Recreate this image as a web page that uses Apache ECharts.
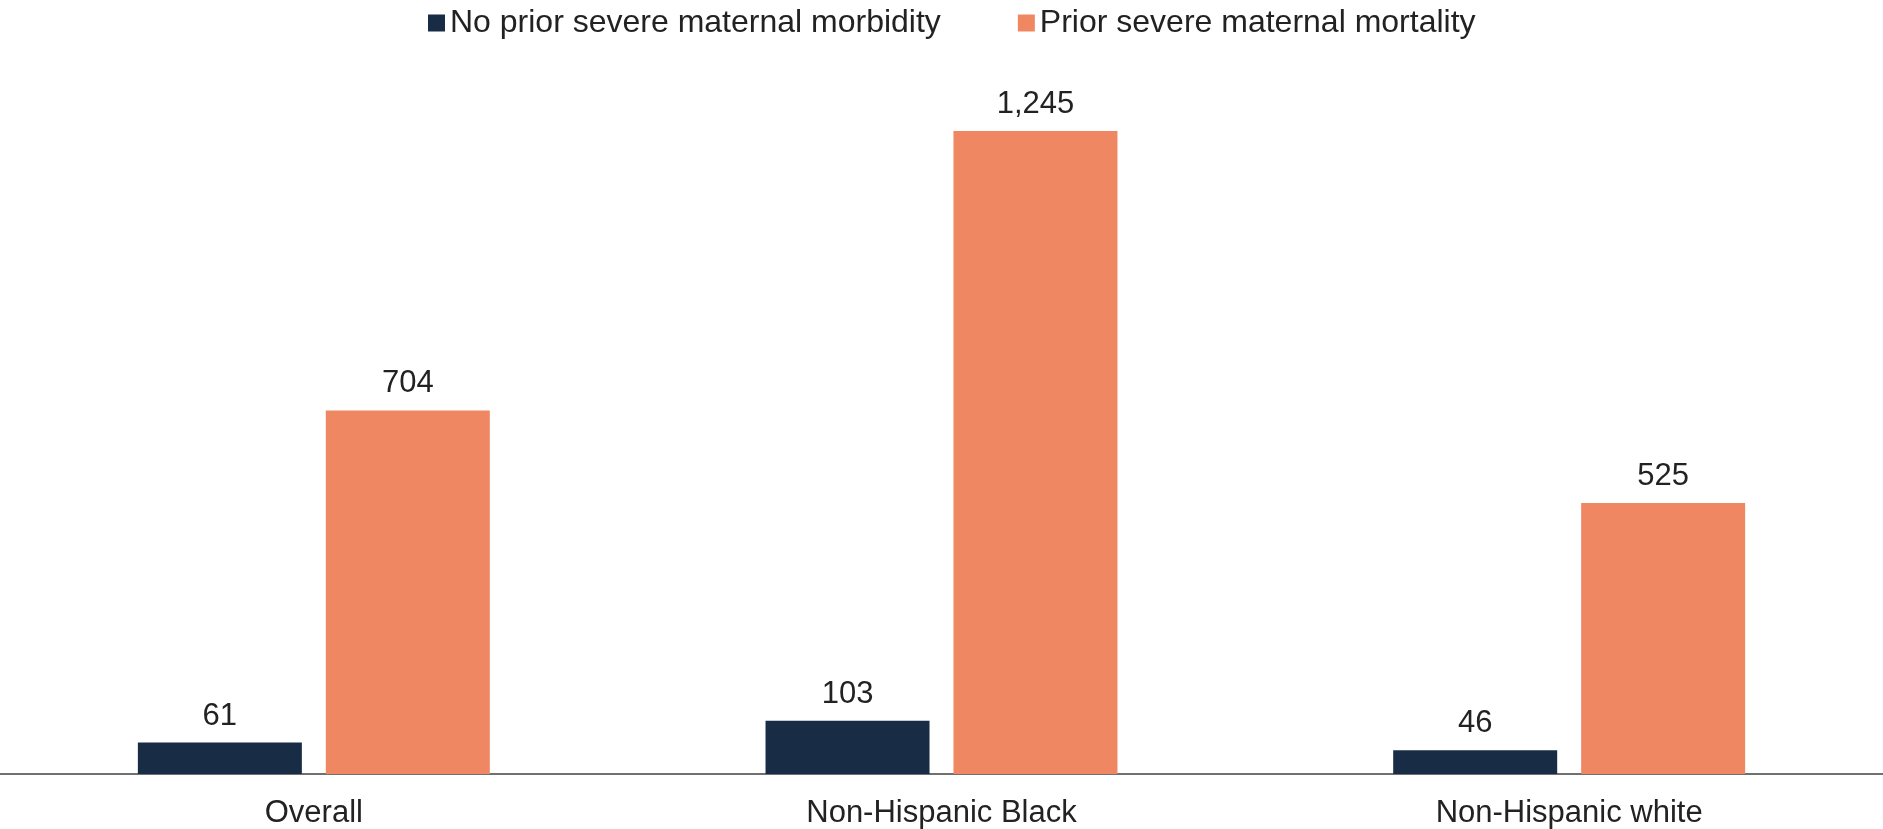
<!DOCTYPE html>
<html>
<head>
<meta charset="utf-8">
<script src="https://cdn.jsdelivr.net/npm/echarts@6/dist/echarts.min.js"></script>
<style>
html,body{margin:0;padding:0;background:#fff;}
#chart{width:1883px;height:829px;}
</style>
</head>
<body>
<div id="chart"></div>
<script>
var categories = ['Overall', 'Non-Hispanic Black', 'Non-Hispanic white'];
var seriesNames = ['No prior severe maternal morbidity', 'Prior severe maternal mortality'];
var noPriorValues = [61, 103, 46];
var priorValues = [704, 1245, 525];

var chart = echarts.init(document.getElementById('chart'));
var FONT = 'Liberation Sans, Arial, sans-serif';
var labelStyle = {
  show: true,
  position: 'top',
  distance: 11,
  color: '#222222',
  fontSize: 31,
  fontFamily: FONT,
  formatter: function (p) { return p.value.toLocaleString('en-US'); }
};
chart.setOption({
  animation: false,
  backgroundColor: '#ffffff',
  legend: {
    top: 2,
    left: 423,
    itemWidth: 17,
    itemHeight: 17,
    itemGap: 77,
    icon: 'rect',
    textStyle: { fontSize: 32, color: '#222222', fontFamily: FONT },
    data: seriesNames
  },
  grid: { left: 0, right: 0, top: 51, bottom: 55, containLabel: false },
  xAxis: {
    type: 'category',
    data: categories,
    axisLine: { show: true, lineStyle: { color: '#404040', width: 1.5 } },
    axisTick: { show: false },
    axisLabel: { fontSize: 31, color: '#222222', fontFamily: FONT, margin: 24 }
  },
  yAxis: {
    type: 'value',
    min: 0,
    max: 1400,
    show: false,
    splitLine: { show: false }
  },
  series: [
    {
      name: seriesNames[0],
      type: 'bar',
      data: noPriorValues,
      barWidth: 164,
      barGap: '14.6%',
      itemStyle: { color: '#192c45' },
      label: labelStyle
    },
    {
      name: seriesNames[1],
      type: 'bar',
      data: priorValues,
      barWidth: 164,
      itemStyle: { color: '#f08763' },
      label: labelStyle
    }
  ]
});
</script>
</body>
</html>
